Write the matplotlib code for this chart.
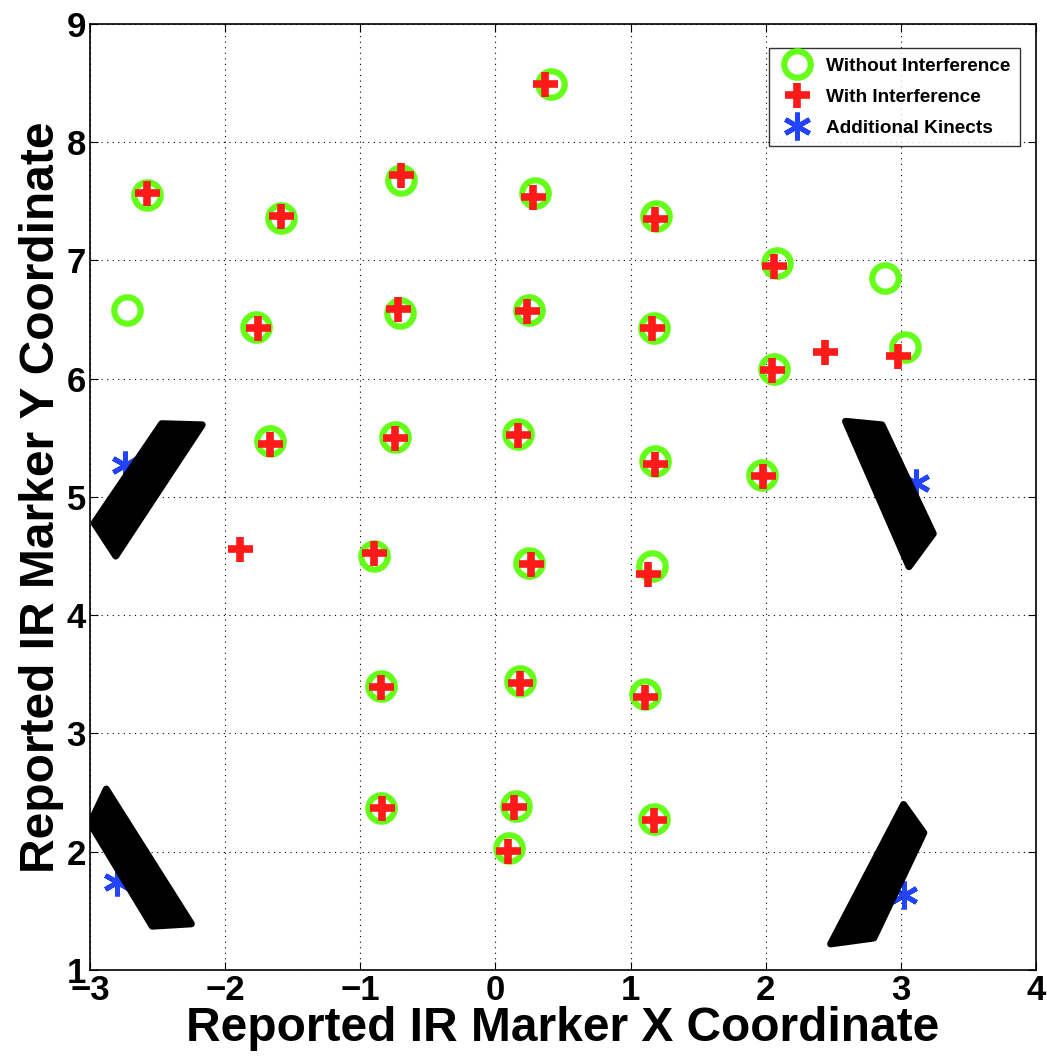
import matplotlib.pyplot as plt
from matplotlib.patches import Polygon

# marker positions
x_without = [0.41, -2.58, -1.59, -0.70, 0.29, 1.19, 2.08, 2.88, -2.73, -1.77,
             -0.71, 0.25, 1.17, 2.06, 3.03, -1.67, -0.74, 0.17, 1.18, 1.97,
             -0.90, 0.25, 1.16, -0.85, 0.18, 1.11, -0.85, 0.15, 1.17, 0.10]
y_without = [8.49, 7.55, 7.36, 7.68, 7.57, 7.38, 6.98, 6.85, 6.58, 6.44,
             6.56, 6.58, 6.43, 6.08, 6.27, 5.47, 5.51, 5.53, 5.30, 5.19,
             4.50, 4.44, 4.42, 3.40, 3.44, 3.33, 2.37, 2.39, 2.28, 2.03]

x_with = [0.37, -2.58, -1.59, -0.70, 0.28, 1.18, 2.06, -1.76, -0.72, 0.23,
          1.16, 2.44, 2.98, 2.05, -1.67, -0.74, 0.17, 1.18, 1.98, -1.89,
          -0.90, 0.26, 1.13, -0.85, 0.18, 1.11, -0.84, 0.14, 1.17, 0.09]
y_with = [8.49, 7.57, 7.38, 7.72, 7.54, 7.35, 6.95, 6.43, 6.59, 6.57,
          6.43, 6.23, 6.19, 6.07, 5.45, 5.50, 5.52, 5.28, 5.18, 4.56,
          4.53, 4.43, 4.35, 3.39, 3.43, 3.31, 2.37, 2.38, 2.27, 2.01]

x_kinect = [-2.74, -2.80, 3.11, 3.02]
y_kinect = [5.27, 1.74, 5.12, 1.63]

# kinect outlines (corner points, data units)
kinect_ul = [(-2.47, 5.62), (-2.17, 5.61), (-2.81, 4.50), (-2.97, 4.78)]
kinect_ll = [(-2.88, 2.53), (-3.00, 2.24), (-2.54, 1.37), (-2.25, 1.39)]
kinect_ur = [(2.59, 5.64), (2.86, 5.61), (3.24, 4.69), (3.06, 4.41)]
kinect_lr = [(3.02, 2.40), (3.17, 2.16), (2.80, 1.27), (2.48, 1.22)]

xticks = [-3, -2, -1, 0, 1, 2, 3, 4]
yticks = [1, 2, 3, 4, 5, 6, 7, 8, 9]

plt.rcParams['font.family'] = ['Liberation Sans', 'DejaVu Sans']
plt.rcParams['font.weight'] = 'bold'

fig = plt.figure(figsize=(10.47, 10.61), dpi=100)
ax = fig.add_axes([0.086, 0.0858, 0.9035, 0.8916])

for pts in [kinect_ul, kinect_ll, kinect_ur, kinect_lr]:
    ax.add_patch(Polygon(pts, closed=True, facecolor='black', edgecolor='black',
                         linewidth=5, joinstyle='round', zorder=2))

ax.plot(x_without, y_without, linestyle='none', marker='o', markersize=19,
        markerfacecolor='none', markeredgecolor='#66ff1a', markeredgewidth=4.5,
        label='Without Interference', zorder=3)
ax.plot(x_with, y_with, linestyle='none', marker='+', markersize=18,
        markeredgecolor='#ff1a1a', markeredgewidth=5.5,
        label='With Interference', zorder=4)
ax.plot(x_kinect, y_kinect, linestyle='none', marker=(6, 2, 0), markersize=20,
        markeredgecolor='#2244ff', markeredgewidth=3.5,
        label='Additional Kinects', zorder=1)

ax.set_xlim(-3, 4)
ax.set_ylim(1, 9)
ax.set_xticks(xticks)
ax.set_yticks(yticks)
ax.set_xticklabels(['\u22123', '\u22122', '\u22121', '0', '1', '2', '3', '4'])
ax.tick_params(direction='in', length=6, width=0.8, labelsize=25,
               top=True, right=True, pad=3)
for lab in ax.get_xticklabels() + ax.get_yticklabels():
    lab.set_fontweight('bold')
ax.grid(True, color='black', linestyle=(0, (1, 4)), linewidth=0.8)
for s in ax.spines.values():
    s.set_linewidth(1.2)

ax.set_xlabel('Reported IR Marker X Coordinate', fontsize=34.5, fontweight='bold', labelpad=-1)
ax.set_ylabel('Reported IR Marker Y Coordinate', fontsize=34.5, fontweight='bold', labelpad=2)

leg = ax.legend(loc='upper right', bbox_to_anchor=(0.983, 0.9746), borderaxespad=0,
                frameon=True, fancybox=False, edgecolor='black',
                handletextpad=0.6, labelspacing=0.72, borderpad=0.5,
                handlelength=1.9, prop={'weight': 'bold', 'size': 13.7},
                markerscale=1.0)
leg.get_frame().set_linewidth(1.0)

fig.savefig('out.png', dpi=100)
